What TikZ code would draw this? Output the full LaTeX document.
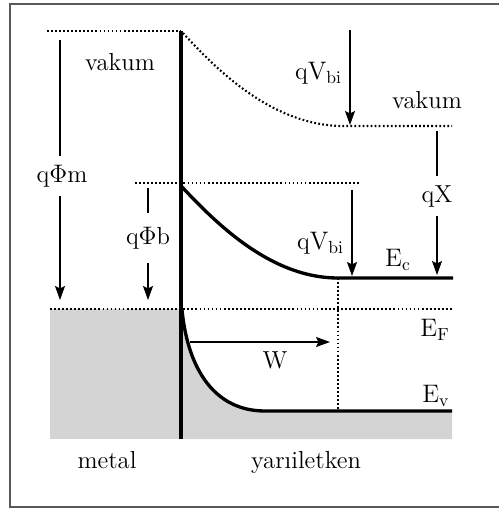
\documentclass[tikz,border=0pt]{standalone}
\usepackage{amsmath,amssymb}
\usepackage{xcolor}
\usetikzlibrary{positioning,arrows.meta,calc}

\begin{document}
\begin{tikzpicture}[x=0.02cm, y=-0.02cm, font=\fontsize{14}{16}\selectfont,
  >={Stealth[length=2.8mm, width=2mm, inset=0.5mm]},
  lv/.style={line width=1.2pt, dash pattern=on 1pt off 1.3pt},
  bd/.style={line width=1.9pt},
  ar/.style={line width=0.6pt},
  lb/.style={inner sep=1pt},
  gp/.style={inner xsep=1pt, inner ysep=5pt}]
\useasboundingbox (0,0) rectangle (499,509);
\draw[black!65, line width=1.2pt] (499,4) -- (10,4) -- (10,507) -- (499,507);
% band edges
\coordinate (vm) at (47,31);
\coordinate (top) at (181,31);
\coordinate (bot) at (181,439);
\coordinate (vac0) at (183,33);
\coordinate (vac1) at (340,126);
\coordinate (vac2) at (452,126);
\coordinate (ec0) at (182,187);
\coordinate (ec1) at (338,278);
\coordinate (ec2) at (453,278);
\coordinate (ev0) at (182,310);
\coordinate (ev1) at (265,411);
\coordinate (ev2) at (452,411);
\coordinate (bl) at (135,183);
\coordinate (br) at (360,183);
\coordinate (fl) at (50,309);
\coordinate (fr) at (452,309);
% filled states
\fill[black!17] (fl) rectangle (bot);
\fill[black!17] (ev0) .. controls (188,370) and (215,411) .. (ev1) -- (ev2) -- (452,439) -- (bot) -- cycle;
% dotted levels
\draw[lv] (vm) -- (top);
\draw[lv] (vac0) .. controls (215,68) and (270,124) .. (vac1) -- (vac2);
\draw[lv] (bl) -- (br);
\draw[lv] (fl) -- (fr);
\draw[lv] (ec1) -- (ec1 |- ev2);
% bands
\draw[bd] (ec0) .. controls (215,222) and (270,278) .. (ec1) -- (ec2);
\draw[bd] (ev0) .. controls (188,370) and (215,411) .. (ev1) -- (ev2);
\draw[line width=2pt] (top) -- (bot);
% split arrows
\coordinate (m0) at (60,40);
\coordinate (m1) at (60,300);
\node[gp] (qm) at (62,176) {q$\Phi$m};
\draw[ar] (m0) -- (m0 |- qm.north);
\draw[ar, ->] (m1 |- qm.south) -- (m1);
\coordinate (b0) at (148,188);
\coordinate (b1) at (148,300);
\node[gp, inner ysep=8pt] (qb) at (148,238) {q$\Phi$b};
\draw[ar] (b0) -- (b0 |- qb.north);
\draw[ar, ->] (b1 |- qb.south) -- (b1);
\coordinate (x0) at (437,131);
\coordinate (x1) at (437,275);
\node[gp] (qx) at (437,196) {qX};
\draw[ar] (x0) -- (x0 |- qx.north);
\draw[ar, ->] (x1 |- qx.south) -- (x1);
% built-in potential
\coordinate (v0) at (350,30);
\coordinate (v1) at (350,125);
\coordinate (v2) at (352,190);
\coordinate (v3) at (352,276);
\draw[ar, ->] (v0) -- (v1);
\draw[ar, ->] (v2) -- (v3);
\node[lb, anchor=east] (qv1) at (344,73) {q$\mathrm{V_{bi}}$};
\node[lb, anchor=east] (qv2) at (346,243) {q$\mathrm{V_{bi}}$};
% depletion width
\coordinate (w0) at (190,342);
\coordinate (w1) at (330,342);
\draw[ar, ->] (w0) -- (w1);
\foreach \n/\x/\y/\t in {vl/120/62/vakum, vr/427/100/vakum, w/275/360/W,
    ec/398/260/{$\mathrm{E_c}$}, ef/435/330/{$\mathrm{E_F}$}, ev/436/396/{$\mathrm{E_v}$},
    mt/107/460/metal, sc/306/462/{yar\i iletken}}
  \node[lb] (\n) at (\x,\y) {\t};
\end{tikzpicture}
\end{document}
